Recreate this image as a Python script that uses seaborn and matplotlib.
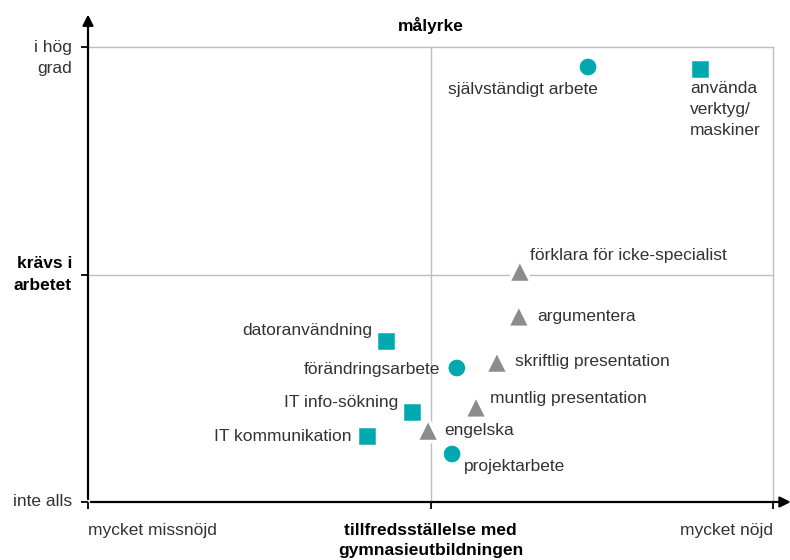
import numpy as np
import pandas as pd
import seaborn as sns
import matplotlib.pyplot as plt

# data (x: 0 = mycket missnöjd, 2 = mycket nöjd; y: 0 = inte alls, 2 = i hög grad)
names = ['självständigt arbete', 'använda\nverktyg/\nmaskiner', 'förklara för icke-specialist',
         'argumentera', 'datoranvändning', 'förändringsarbete', 'skriftlig presentation',
         'muntlig presentation', 'IT info-sökning', 'engelska', 'IT kommunikation', 'projektarbete']
x_vals = [1.46, 1.787, 1.261, 1.258, 0.870, 1.077, 1.194, 1.133, 0.946, 0.993, 0.815, 1.063]
y_vals = [1.912, 1.903, 1.015, 0.818, 0.708, 0.589, 0.615, 0.418, 0.396, 0.316, 0.290, 0.211]
kinds = ['cirkel', 'kvadrat', 'triangel', 'triangel', 'kvadrat', 'cirkel', 'triangel',
         'triangel', 'kvadrat', 'triangel', 'kvadrat', 'cirkel']

x_ticklabels = ['mycket missnöjd', 'tillfredsställelse med\ngymnasieutbildningen', 'mycket nöjd']
y_ticklabels = ['inte alls', 'krävs i\narbetet', 'i hög\ngrad']

df = pd.DataFrame({'namn': names, 'x': x_vals, 'y': y_vals, 'typ': kinds})

sns.set_style('white')
plt.rcParams['font.family'] = ['Liberation Sans', 'DejaVu Sans']

teal = '#00A9B0'
grey = '#8C8C8C'
line_grey = '#BDBDBD'
tc = '#333333'
fs = 12.5
ls = 1.5

fig = plt.figure(figsize=(7.9, 5.6), dpi=100)
ax = fig.add_axes([88 / 790, 58 / 560, 685 / 790, 455 / 560])
ax.set_xlim(0, 2)
ax.set_ylim(0, 2)

ax.axhline(1, color=line_grey, lw=1, zorder=1)
ax.axvline(1, color=line_grey, lw=1, zorder=1)

sns.scatterplot(data=df, x='x', y='y', hue='typ', style='typ', size='typ',
                palette={'cirkel': teal, 'kvadrat': teal, 'triangel': grey},
                markers={'cirkel': 'o', 'kvadrat': 's', 'triangel': '^'},
                sizes={'cirkel': 210, 'kvadrat': 195, 'triangel': 270},
                edgecolor='white', linewidth=2.5,
                legend=False, ax=ax, zorder=3, clip_on=False)

# label offsets in pixels (dx, dy, ha, va)
offsets = [(-65, -22, 'center', 'center'), (-10, -12, 'left', 'top'), (10, 16, 'left', 'center'),
           (18, -1, 'left', 'center'), (-14, 10, 'right', 'center'), (-17, -1, 'right', 'center'),
           (18, 1, 'left', 'center'), (14, 8, 'left', 'center'), (-14, 9, 'right', 'center'),
           (16, 0, 'left', 'center'), (-16, 0, 'right', 'center'), (12, -13, 'left', 'center')]
for n, xv, yv, (dx, dy, ha, va) in zip(names, x_vals, y_vals, offsets):
    ax.annotate(n, (xv, yv), xytext=(dx, dy), textcoords='offset pixels',
                ha=ha, va=va, fontsize=fs, color=tc, linespacing=ls)

for side in ['top', 'right']:
    ax.spines[side].set_color(line_grey)
    ax.spines[side].set_linewidth(1)
for side in ['left', 'bottom']:
    ax.spines[side].set_visible(False)

# axes as arrows
ax.annotate('', xy=(0, 2.155), xytext=(0, 0), xycoords='data',
            arrowprops=dict(arrowstyle='-|>', color='black', lw=1.6, mutation_scale=16),
            annotation_clip=False)
ax.annotate('', xy=(2.06, 0), xytext=(0, 0), xycoords='data',
            arrowprops=dict(arrowstyle='-|>', color='black', lw=1.6, mutation_scale=16),
            annotation_clip=False)

ax.set_xticks([0, 1, 2])
ax.set_yticks([0, 1, 2])
ax.set_xticklabels([])
ax.set_yticklabels([])
ax.tick_params(axis='both', direction='out', length=5, width=1.3, color='black',
               bottom=True, left=True)
ax.set_xlabel('')
ax.set_ylabel('')

# y tick labels
ax.annotate(y_ticklabels[0], (0, 0), xytext=(-16, 0), textcoords='offset pixels',
            ha='right', va='center', fontsize=fs, color=tc)
ax.annotate(y_ticklabels[1], (0, 1), xytext=(-16, 0), textcoords='offset pixels',
            ha='right', va='center', fontsize=fs, fontweight='bold', color='black',
            linespacing=ls)
ax.annotate(y_ticklabels[2], (0, 2), xytext=(-16, 7), textcoords='offset pixels',
            ha='right', va='top', fontsize=fs, color=tc, linespacing=ls)

# x tick labels
ax.annotate(x_ticklabels[0], (0, 0), xytext=(0, -28), textcoords='offset pixels',
            ha='left', va='center', fontsize=fs, color=tc)
ax.annotate(x_ticklabels[1], (1, 0), xytext=(0, -21), textcoords='offset pixels',
            ha='center', va='top', fontsize=fs, fontweight='bold', color='black',
            linespacing=ls - 0.05, annotation_clip=False)
ax.annotate(x_ticklabels[2], (2, 0), xytext=(0, -28), textcoords='offset pixels',
            ha='right', va='center', fontsize=fs, color=tc)

ax.annotate('målyrke', (1, 2), xytext=(0, 21), textcoords='offset pixels',
            ha='center', va='center', fontsize=fs, fontweight='bold', color='black')

fig.savefig('out.png', dpi=100)
